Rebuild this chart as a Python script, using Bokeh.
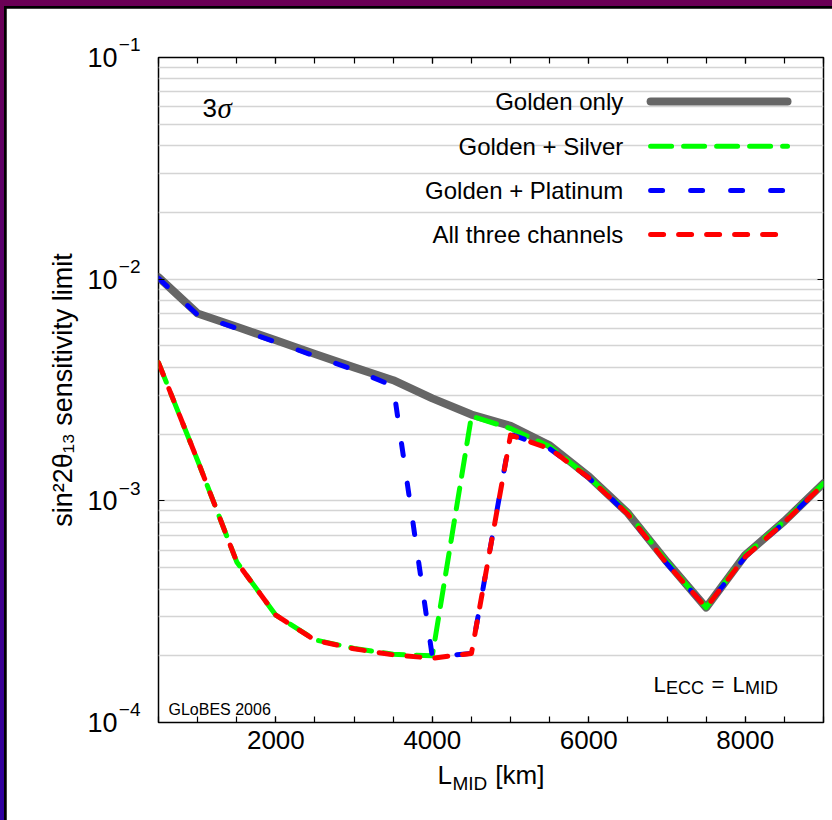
from bokeh.plotting import figure
from bokeh.models import FixedTicker, LinearAxis, LogAxis, Label, Arrow
from bokeh.layouts import column
from bokeh.embed import file_html
from bokeh.resources import INLINE

# ---------------- data ----------------
L_mid = [500, 1000, 1500, 2000, 2500, 3000, 3500, 4000, 4500,
         5000, 5500, 6000, 6500, 7000, 7500, 8000, 8500, 9000]

golden_only = [0.0102, 0.0070, 0.0061, 0.0053, 0.0046, 0.0040, 0.0035, 0.0029, 0.00245,
               0.00218, 0.00178, 0.00129, 0.00088, 0.00053, 0.00033, 0.00057, 0.00081, 0.00120]

golden_silver = [0.0042, 0.00152, 0.00053, 0.000305, 0.000236, 0.000216, 0.000203, 0.000200, 0.00241,
                 0.00212, 0.00176, 0.00128, 0.00088, 0.00053, 0.00033, 0.00057, 0.00081, 0.00120]

golden_platinum = [0.0101, 0.0069, 0.0060, 0.0052, 0.0045, 0.0039, 0.0033, 0.000198, 0.000205,
                   0.00200, 0.00172, 0.00127, 0.00087, 0.00052, 0.00033, 0.00056, 0.00080, 0.00119]

all_three = [0.0042, 0.00152, 0.00053, 0.000305, 0.000235, 0.000215, 0.000202, 0.000195, 0.000205,
             0.00198, 0.00172, 0.00127, 0.00087, 0.00052, 0.00033, 0.00056, 0.00080, 0.00119]

x_major = [2000, 4000, 6000, 8000]
x_minor = [500, 1000, 1500, 2000, 2500, 3000, 3500, 4000, 4500,
           5000, 5500, 6000, 6500, 7000, 7500, 8000, 8500, 9000]
y_major = [1e-4, 1e-3, 1e-2, 1e-1]
y_major_base = "10"
y_major_exponents = ["−4", "−3", "−2", "−1"]
y_minor = [m * d for d in (1e-4, 1e-3, 1e-2) for m in range(2, 10)]

legend_labels = ["Golden only", "Golden + Silver", "Golden + Platinum", "All three channels"]

FONT = "Liberation Sans"
NB = "\u00a0"

# ---------------- figure ----------------
p = figure(width=826, height=812,
           x_range=(500, 9000), y_range=(1e-4, 1e-1), y_axis_type="log",
           output_backend="svg", toolbar_location=None,
           min_border_left=152, min_border_right=9, min_border_top=49, min_border_bottom=98,
           background_fill_color="white", border_fill_color="white",
           outline_line_color="black", outline_line_width=1.5)

xt = FixedTicker(ticks=x_major, minor_ticks=x_minor)
yt = FixedTicker(ticks=y_major, minor_ticks=y_minor)


def plain(ax):
    ax.axis_line_color = None
    ax.major_tick_out = 0
    ax.minor_tick_out = 0
    ax.major_label_text_font = FONT
    ax.major_label_text_color = "black"
    ax.axis_label_text_font = FONT
    ax.axis_label_text_font_style = "normal"
    ax.axis_label_text_color = "black"


# bottom axis: ticks + numbers
xa = p.xaxis[0]
plain(xa)
xa.ticker = xt
xa.major_tick_in = 6
xa.minor_tick_in = 6
xa.major_tick_line_width = 1.2
xa.minor_tick_line_width = 1.2
xa.major_label_text_font_size = "26px"
xa.major_label_standoff = 8

# left axis (inner): ticks + exponent superscripts
ya = p.yaxis[0]
plain(ya)
ya.ticker = yt
ya.major_tick_in = 6
ya.major_tick_line_width = 1.2
ya.minor_tick_line_color = None
ya.major_label_overrides = {v: e + "\n" + NB for v, e in zip(y_major, y_major_exponents)}
ya.major_label_text_font_size = "19px"
ya.major_label_standoff = 18

# left axis (outer): the "10" bases and the axis title
yb = LogAxis(ticker=FixedTicker(ticks=y_major))
plain(yb)
yb.major_tick_line_color = None
yb.minor_tick_line_color = None
yb.major_label_overrides = {v: y_major_base for v in y_major}
yb.major_label_text_font_size = "27px"
yb.major_label_standoff = -2
yb.axis_label = "sin²2θ₁₃ sensitivity limit"
yb.axis_label_text_font_size = "27px"
yb.axis_label_standoff = 6
p.add_layout(yb, "left")

# x axis title: L_MID [km]  (main part + subscript part)
xl = LinearAxis(ticker=FixedTicker(ticks=[]))
plain(xl)
xl.major_tick_line_color = None
xl.minor_tick_line_color = None
xl.major_label_standoff = 0
xl.axis_label = "L" + NB * 6 + "[km]"
xl.axis_label_text_font_size = "26px"
xl.axis_label_standoff = 8
p.add_layout(xl, "below")

xs = LinearAxis(ticker=FixedTicker(ticks=[]))
plain(xs)
xs.major_tick_line_color = None
xs.minor_tick_line_color = None
xs.major_label_standoff = 0
xs.axis_label = "MID" + NB * 8
xs.axis_label_text_font_size = "19px"
xs.axis_label_standoff = -20
p.add_layout(xs, "below")

# frame ticks on top and right
top = LinearAxis(ticker=xt, axis_line_color=None, major_tick_out=0, major_tick_in=6,
                 minor_tick_out=0, minor_tick_in=6, major_tick_line_width=1.2,
                 minor_tick_line_width=1.2, major_label_text_font_size="1px",
                 major_label_overrides={v: "" for v in x_major}, major_label_standoff=0)
p.add_layout(top, "above")
right = LogAxis(ticker=yt, axis_line_color=None, major_tick_out=0, major_tick_in=6,
                minor_tick_line_color=None, major_tick_line_width=1.2,
                major_label_text_font_size="1px",
                major_label_overrides={v: "" for v in y_major}, major_label_standoff=0)
p.add_layout(right, "right")

p.xgrid.grid_line_color = None
p.ygrid.ticker = yt
p.ygrid.grid_line_color = "#d4d4d4"
p.ygrid.grid_line_width = 1.5
p.ygrid.minor_grid_line_color = "#d4d4d4"
p.ygrid.minor_grid_line_width = 1.5

# ---------------- curves ----------------
styles = [
    dict(y=golden_only, color="#666666", width=8, dash="solid"),
    dict(y=golden_silver, color="#00ff00", width=5, dash="21 12"),
    dict(y=golden_platinum, color="#0000ff", width=5, dash="12 28"),
    dict(y=all_three, color="#ff0000", width=5, dash="13 15"),
]
for s in styles:
    p.line(L_mid, s["y"], line_color=s["color"], line_width=s["width"], line_dash=s["dash"],
           line_cap="round", line_join="round")

# ---------------- legend (text left, sample right) ----------------
legend_rows = [0.0633, 0.0398, 0.0251, 0.0159]
for lab, ry, s in zip(legend_labels, legend_rows, styles):
    p.add_layout(Label(x=6440, y=ry, text=lab, text_align="right", text_baseline="middle",
                       text_font=FONT, text_font_size="24px", text_color="black"))
    p.add_layout(Arrow(start=None, end=None, x_start=6790, x_end=8540, y_start=ry, y_end=ry,
                       line_color=s["color"], line_width=s["width"], line_dash=s["dash"],
                       line_cap="round"))

# ---------------- annotations ----------------
p.add_layout(Label(x=1062, y=0.0589, text="3", text_font=FONT, text_font_size="26px",
                   text_baseline="alphabetic", text_color="black"))
p.add_layout(Label(x=1062, y=0.0589, x_offset=15, text="σ", text_font="Liberation Serif",
                   text_font_style="italic", text_font_size="29px", text_baseline="alphabetic",
                   text_color="black"))

p.add_layout(Label(x=628, y=1.146e-4, text="GLoBES 2006", text_font=FONT, text_font_size="16px",
                   text_baseline="alphabetic", text_color="black"))

# L_ECC = L_MID
ex, ey = 6827, 1.484e-4
parts = [("L", 0, 0, "22px"), ("ECC", 12.5, -4, "18px"), ("=", 58, 0, "22px"),
         ("L", 79, 0, "22px"), ("MID", 91.5, -4, "18px")]
for t, dx, dy, fs in parts:
    p.add_layout(Label(x=ex, y=ey, x_offset=dx, y_offset=dy, text=t, text_font=FONT,
                       text_font_size=fs, text_baseline="alphabetic", text_color="black"))

inner = column(p, styles={"background": "black", "padding": "2px 0px 0px 2px"})
root = column(inner, styles={"position": "fixed", "left": "0px", "top": "0px",
                             "padding": "6px 0px 0px 4px",
                             "background": "linear-gradient(180deg, #6a0055 0%, #2e00a0 100%)"})

open("out.html", "w").write(file_html(root, INLINE))
